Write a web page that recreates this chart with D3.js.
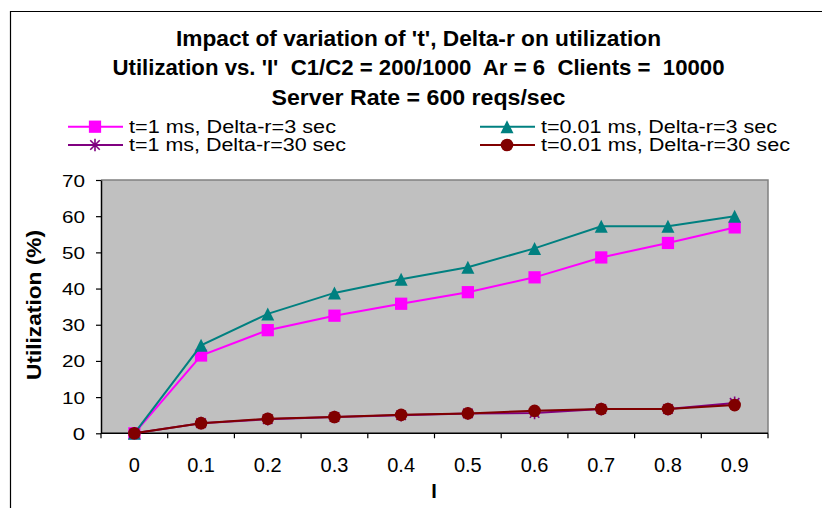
<!DOCTYPE html>
<html>
<head>
<meta charset="utf-8">
<script src="https://cdn.jsdelivr.net/npm/d3@7"></script>
<style>
  html, body { margin: 0; padding: 0; background: #ffffff; }
  svg { display: block; }
  text { font-family: "Liberation Sans", Arial, sans-serif; fill: #000; white-space: pre; }
</style>
</head>
<body>
<svg id="chart" width="822" height="508"></svg>
<script>
// ---- data ----
const categories = ["0", "0.1", "0.2", "0.3", "0.4", "0.5", "0.6", "0.7", "0.8", "0.9"];
const seriesNames = [
  "t=1 ms, Delta-r=3 sec",
  "t=0.01 ms, Delta-r=3 sec",
  "t=1 ms, Delta-r=30 sec",
  "t=0.01 ms, Delta-r=30 sec"
];
const t1dr3 = [0, 21.5, 28.5, 32.5, 35.8, 39.0, 43.1, 48.6, 52.6, 56.9];
const t001dr3 = [0, 24.3, 33.0, 38.8, 42.6, 45.9, 51.1, 57.2, 57.2, 60.0];
const t1dr30 = [0, 2.8, 3.9, 4.5, 5.0, 5.5, 5.6, 6.7, 6.7, 8.4];
const t001dr30 = [0, 2.8, 4.0, 4.5, 5.1, 5.5, 6.2, 6.7, 6.7, 7.8];
const yTicks = [0, 10, 20, 30, 40, 50, 60, 70];
const titleLines = [
  "Impact of variation of 't', Delta-r on utilization",
  "Utilization vs. 'I'  C1/C2 = 200/1000  Ar = 6  Clients =  10000",
  "Server Rate = 600 reqs/sec"
];
const xTitle = "I";
const yTitle = "Utilization (%)";

// ---- layout / style ----
const svg = d3.select("#chart");
const plot = { left: 101, right: 768, top: 180, bottom: 433.3 };
const colors = ["#FF00FF", "#008080", "#800080", "#800000"];

// outer frame
svg.append("path")
  .attr("d", `M10.5,508 L10.5,11.5 L822,11.5`)
  .attr("fill", "none").attr("stroke", "#000").attr("stroke-width", 1.2);

// titles
const titleY = [46, 75, 105];
const titleW = [485, 612, 294];
titleLines.forEach((t, i) => {
  svg.append("text")
    .attr("x", 418.5).attr("y", titleY[i])
    .attr("text-anchor", "middle")
    .attr("xml:space", "preserve")
    .attr("font-size", 21.5).attr("font-weight", "bold")
    .attr("textLength", titleW[i]).attr("lengthAdjust", "spacingAndGlyphs")
    .text(t);
});

// scales
const x = d3.scaleBand().domain(categories).range([plot.left, plot.right]).padding(0);
const y = d3.scaleLinear().domain([0, 70]).range([plot.bottom, plot.top]);
const cx = c => x(c) + x.bandwidth() / 2;

// plot background
svg.append("rect")
  .attr("x", plot.left).attr("y", plot.top)
  .attr("width", plot.right - plot.left).attr("height", plot.bottom - plot.top)
  .attr("fill", "#C0C0C0");
svg.append("path")
  .attr("d", `M${plot.left},${plot.top} L${plot.right},${plot.top} L${plot.right},${plot.bottom}`)
  .attr("fill", "none").attr("stroke", "#808080").attr("stroke-width", 1.5);

// y axis
const yAxis = svg.append("g")
  .attr("transform", `translate(${plot.left},0)`)
  .call(d3.axisLeft(y).tickValues(yTicks).tickSize(5).tickPadding(11).tickSizeOuter(0));
yAxis.select(".domain").attr("stroke", "#000").attr("stroke-width", 1.5);
yAxis.selectAll(".tick line").attr("stroke", "#000").attr("stroke-width", 1.2);
yAxis.selectAll(".tick text")
  .attr("font-family", "\"Liberation Sans\", Arial, sans-serif")
  .attr("font-size", 16.5)
  .attr("dy", 6)
  .attr("textLength", d => String(d).length === 1 ? 12.3 : 23)
  .attr("lengthAdjust", "spacingAndGlyphs");

// x axis (labels at category centres, ticks at boundaries)
const xAxis = svg.append("g")
  .attr("transform", `translate(0,${plot.bottom})`)
  .call(d3.axisBottom(x).tickSize(0).tickPadding(25));
xAxis.select(".domain").remove();
xAxis.selectAll(".tick text")
  .attr("font-family", "\"Liberation Sans\", Arial, sans-serif")
  .attr("font-size", 20);
const edges = categories.map(c => x(c)).concat([x.range()[1]]);
svg.append("g").selectAll("line").data(edges).join("line")
  .attr("x1", d => d).attr("x2", d => d)
  .attr("y1", plot.bottom).attr("y2", plot.bottom + 5)
  .attr("stroke", "#000").attr("stroke-width", 1.2);
svg.append("line")
  .attr("x1", plot.left).attr("x2", plot.right)
  .attr("y1", plot.bottom).attr("y2", plot.bottom)
  .attr("stroke", "#000").attr("stroke-width", 1.5);

// axis titles
svg.append("text")
  .attr("x", 434).attr("y", 498)
  .attr("text-anchor", "middle")
  .attr("font-size", 20).attr("font-weight", "bold")
  .text(xTitle);
svg.append("text")
  .attr("transform", "translate(41,305) rotate(-90)")
  .attr("text-anchor", "middle")
  .attr("font-size", 19.5).attr("font-weight", "bold")
  .attr("textLength", 150).attr("lengthAdjust", "spacingAndGlyphs")
  .text(yTitle);

// custom marker shapes
const triangleSym = {
  draw(ctx, size) {
    const w = Math.sqrt(size), h = w;
    ctx.moveTo(0, -h / 2);
    ctx.lineTo(w / 2, h / 2);
    ctx.lineTo(-w / 2, h / 2);
    ctx.closePath();
  }
};
const asteriskSym = {
  draw(ctx, size) {
    const r = Math.sqrt(size) / 2;
    const d = r * 0.75;
    ctx.moveTo(0, -r); ctx.lineTo(0, r);
    ctx.moveTo(-d, -d); ctx.lineTo(d, d);
    ctx.moveTo(-d, d); ctx.lineTo(d, -d);
  }
};
const markers = [
  { type: d3.symbolSquare, size: 150, fill: true },
  { type: triangleSym, size: 169, fill: true },
  { type: asteriskSym, size: 160, fill: false },
  { type: d3.symbolCircle, size: 125, fill: true }
];

const allSeries = [t1dr3, t001dr3, t1dr30, t001dr30];
const line = d3.line().x((d, i) => cx(categories[i])).y(d => y(d));

allSeries.forEach((vals, s) => {
  const g = svg.append("g");
  g.append("path")
    .attr("d", line(vals))
    .attr("fill", "none")
    .attr("stroke", colors[s])
    .attr("stroke-width", 2);
  const m = markers[s];
  g.selectAll("path.mk").data(vals).join("path")
    .attr("class", "mk")
    .attr("transform", (d, i) => `translate(${cx(categories[i])},${y(d)})`)
    .attr("d", d3.symbol().type(m.type).size(m.size)())
    .attr("fill", m.fill ? colors[s] : "none")
    .attr("stroke", m.fill ? "none" : colors[s])
    .attr("stroke-width", m.fill ? 0 : 1.6);
});

// legend
const legendItems = [
  { s: 0, lx: 68, ty: 132.8, ly: 126.7, w: 207 },
  { s: 1, lx: 480, ty: 132.8, ly: 126.7, w: 236 },
  { s: 2, lx: 68, ty: 151.4, ly: 145, w: 217 },
  { s: 3, lx: 480, ty: 151.4, ly: 145, w: 249 }
];
legendItems.forEach(it => {
  const g = svg.append("g");
  g.append("line")
    .attr("x1", it.lx).attr("x2", it.lx + 55)
    .attr("y1", it.ly).attr("y2", it.ly)
    .attr("stroke", colors[it.s]).attr("stroke-width", 2);
  const m = markers[it.s];
  g.append("path")
    .attr("transform", `translate(${it.lx + 27},${it.ly})`)
    .attr("d", d3.symbol().type(m.type).size(m.size)())
    .attr("fill", m.fill ? colors[it.s] : "none")
    .attr("stroke", m.fill ? "none" : colors[it.s])
    .attr("stroke-width", m.fill ? 0 : 1.6);
  g.append("text")
    .attr("x", it.lx + 61).attr("y", it.ty)
    .attr("font-size", 17.5)
    .attr("textLength", it.w).attr("lengthAdjust", "spacingAndGlyphs")
    .text(seriesNames[it.s]);
});
</script>
</body>
</html>
